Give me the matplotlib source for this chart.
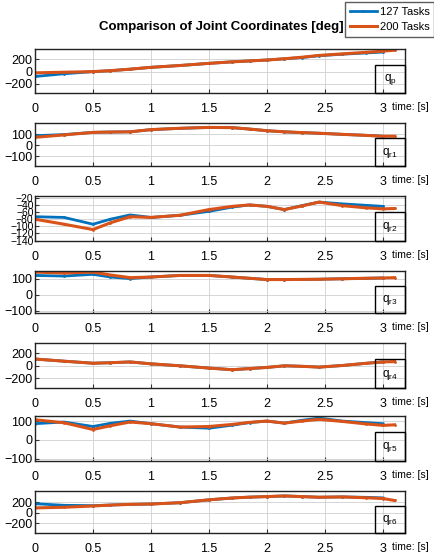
"""
Joint coordinate comparison, 127 vs 200 tasks
"""
import matplotlib
matplotlib.use('Agg')
import matplotlib.pyplot as plt
from matplotlib.patches import Rectangle

plt.rcParams['font.family'] = ['Liberation Sans', 'DejaVu Sans']

# time knots [s]
t_127 = [0, 0.25, 0.5, 0.65, 0.82, 1.0, 1.25, 1.5, 1.7, 1.85, 2.0, 2.15, 2.3, 2.45, 2.65, 2.85, 3.0]
t_200 = t_127 + [3.1]

joint_labels = ['p', 'r1', 'r2', 'r3', 'r4', 'r5', 'r6']

# joint coordinates [deg], 127 tasks
q_p_127 = [-80, -35, 0, 15, 40, 70, 100, 135, 160, 175, 190, 210, 230, 260, 285, 305, 320]
q_r1_127 = [85, 95, 115, 118, 120, 140, 152, 160, 158, 145, 130, 120, 113, 107, 97, 88, 80]
q_r2_127 = [-73, -75, -94, -80, -68, -75, -69, -58, -46, -40, -44, -53, -42, -32, -37, -41, -44]
q_r3_127 = [122, 118, 129, 112, 102, 112, 122, 122, 112, 104, 96, 96, 97, 98, 101, 104, 106]
q_r4_127 = [110, 75, 42, 50, 63, 32, 0, -37, -63, -45, -26, 0, -8, -21, 5, 40, 63]
q_r5_127 = [86, 95, 71, 88, 100, 86, 68, 62, 78, 92, 100, 89, 104, 116, 100, 92, 86]
q_r6_127 = [175, 144, 137, 150, 162, 169, 194, 250, 285, 302, 312, 325, 312, 300, 306, 298, 287]

# joint coordinates [deg], 200 tasks
q_p_200 = [-20, -10, 0, 15, 40, 70, 100, 135, 160, 175, 190, 210, 235, 265, 290, 315, 335, 350]
q_r1_200 = [70, 92, 115, 118, 120, 140, 152, 160, 158, 145, 130, 120, 113, 107, 97, 88, 80, 80]
q_r2_200 = [-80, -94, -109, -90, -73, -75, -69, -53, -44, -40, -44, -53, -43, -32, -42, -48, -51, -50]
q_r3_200 = [143, 137, 143, 125, 108, 112, 122, 122, 112, 104, 96, 96, 97, 98, 101, 104, 106, 108]
q_r4_200 = [110, 75, 42, 50, 63, 32, 0, -37, -63, -45, -26, 0, -8, -21, 5, 40, 63, 68]
q_r5_200 = [107, 91, 55, 75, 95, 86, 68, 71, 82, 93, 100, 89, 100, 109, 98, 85, 77, 80]
q_r6_200 = [94, 106, 131, 148, 162, 169, 194, 250, 285, 302, 312, 325, 312, 300, 306, 290, 275, 237]

series_127 = [q_p_127, q_r1_127, q_r2_127, q_r3_127, q_r4_127, q_r5_127, q_r6_127]
series_200 = [q_p_200, q_r1_200, q_r2_200, q_r3_200, q_r4_200, q_r5_200, q_r6_200]

y_ticks = [[-200, 0, 200], [-100, 0, 100], list(range(-140, -19, 20)),
           [-100, 0, 100], [-200, 0, 200], [-100, 0, 100], [-200, 0, 200]]
y_lims = [(-350, 370), (-190, 200), (-141, -15), (-115, 150),
          (-360, 370), (-113, 127), (-390, 420)]

# axes top/bottom in pixels (figure is 435 x 554)
W, H = 435, 554
ax_rows = [(49, 93), (123, 166), (196, 241), (271, 313), (343, 388), (416, 461), (491, 533)]
left_px, right_px = 35, 405

blue = '#0072BD'
orange = '#D95319'

fig = plt.figure(figsize=(W / 100, H / 100), dpi=100)

for i, (top, bot) in enumerate(ax_rows):
    ax = fig.add_axes([left_px / W, 1 - bot / H, (right_px - left_px) / W, (bot - top) / H])
    ax.plot(t_127, series_127[i], '.-', color=blue, lw=2, ms=2, label='127 Tasks')
    ax.plot(t_200, series_200[i], '.-', color=orange, lw=2.2, ms=2, label='200 Tasks')
    ax.set_xlim(0, 3.19)
    ax.set_ylim(*y_lims[i])
    ax.set_xticks([0, 0.5, 1, 1.5, 2, 2.5, 3])
    ax.set_xticklabels(['0', '0.5', '1', '1.5', '2', '2.5', '3'])
    ax.set_yticks(y_ticks[i])
    ax.grid(True, color='#d0d0d0', lw=0.6)
    ax.tick_params(direction='in', length=3, labelsize=9, color='#333333')
    ax.tick_params(axis='x', pad=7)
    ax.tick_params(axis='y', pad=2)
    if i == 2:
        ax.tick_params(axis='y', labelsize=7.5, pad=1)
    for s in ax.spines.values():
        s.set_linewidth(1.0)
        s.set_color('#222222')

    # joint name box in lower right corner
    ax.add_patch(Rectangle((1 - 30 / 370, 0), 30 / 370, 0.64, transform=ax.transAxes,
                           fill=False, ec='black', lw=1, zorder=5, clip_on=False))
    ax.text(1 - 15 / 370, 0.3, r'$\mathregular{q_{%s}}$' % joint_labels[i],
            transform=ax.transAxes, ha='center', va='center', fontsize=8.5, zorder=6)

    ax.annotate('time: [s]', xy=((392 - left_px) / 370, 0), xycoords='axes fraction',
                xytext=(0, -10), textcoords='offset points', ha='left', va='center',
                fontsize=7.5, annotation_clip=False)

    if i == 0:
        handles, labels = ax.get_legend_handles_labels()

fig.text(221 / W, 1 - 27 / H, 'Comparison of Joint Coordinates [deg]', ha='center',
         va='center', fontsize=9.5, fontweight='bold')

leg = fig.legend(handles, labels, loc='upper right', bbox_to_anchor=(1.0, 0.998),
                 fontsize=8, frameon=True, fancybox=False, edgecolor='#333333',
                 handlelength=2.5, handletextpad=0.2, borderpad=0.4, labelspacing=0.5,
                 borderaxespad=0.1)
leg.get_frame().set_linewidth(1.0)

fig.savefig('out.png', dpi=100)
